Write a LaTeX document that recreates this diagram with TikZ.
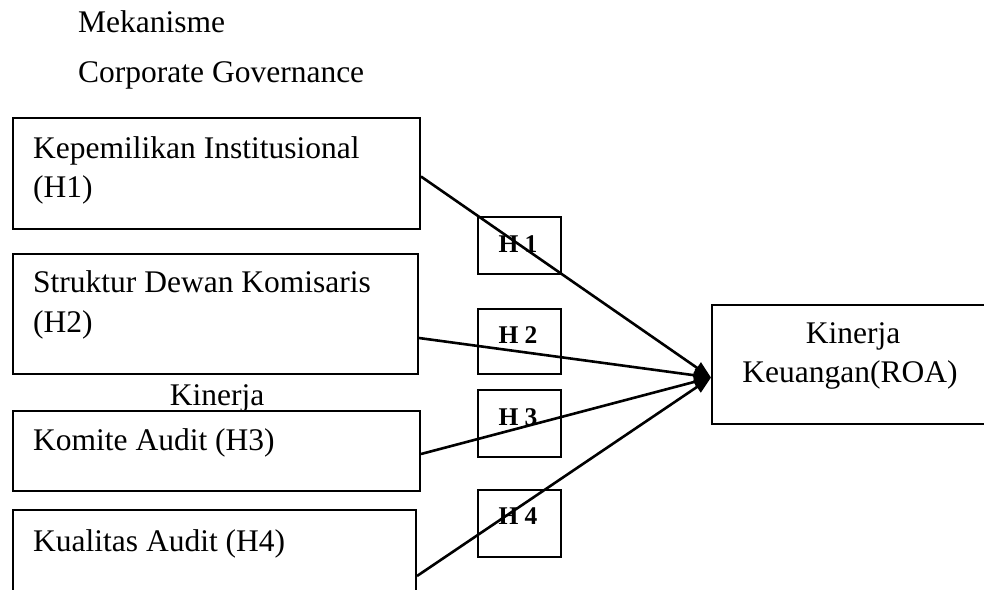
\documentclass[tikz,border=0pt]{standalone}
\usepackage{fontspec}
\setmainfont{Liberation Serif}
\usetikzlibrary{arrows.meta}
\begin{document}
\begin{tikzpicture}[x=1pt,y=-1pt,
  box/.style={draw,line width=2pt,inner sep=0pt,anchor=north west},
  hbox/.style={draw,line width=1.6pt,inner sep=0pt,anchor=north west,minimum width=83pt},
  txt/.style={anchor=base west,inner sep=0pt,font=\fontsize{31.5}{36}\selectfont},
  ctxt/.style={anchor=base,inner sep=0pt,font=\fontsize{31.5}{36}\selectfont},
  htxt/.style={anchor=base,inner sep=0pt,font=\fontsize{25.5}{30}\selectfont\bfseries},
  arr/.style={line width=2.6pt,-{Triangle[length=17pt,width=13pt]}}]
\clip (0,0) rectangle (984,589);
\fill[white] (0,0) rectangle (984,589);
% titles
\node[txt] (t1) at (78,32) {Mekanisme};
\node[txt] (t2) at (78,82) {Corporate Governance};
% left boxes
\node[box,minimum width=407pt,minimum height=111pt] (b1) at (12,117) {};
\node[box,minimum width=405pt,minimum height=120pt] (b2) at (12,253) {};
\node[box,minimum width=407pt,minimum height=80pt] (b3) at (12,410) {};
\node[box,minimum width=403pt,minimum height=110pt] (b4) at (12,509) {};
\node[txt] (l1a) at (33,158) {Kepemilikan Institusional};
\node[txt] (l1b) at (33,197) {(H1)};
\node[txt] (l2a) at (33,292) {Struktur Dewan Komisaris};
\node[txt] (l2b) at (33,332) {(H2)};
\node[txt] (l3) at (33,450) {Komite Audit (H3)};
\node[txt] (l4) at (33,551) {Kualitas Audit (H4)};
\node[ctxt] (mid) at (217,405) {Kinerja};
% right box
\node[box,minimum width=280pt,minimum height=119pt] (roa) at (711,304) {};
\node[ctxt] (r1) at (853,343) {Kinerja};
\node[ctxt] (r2) at (850,382) {Keuangan(ROA)};
% hypothesis boxes
\node[hbox,minimum height=57pt] (h1) at (477,216) {};
\node[hbox,minimum height=65pt] (h2) at (477,308) {};
\node[hbox,minimum height=67pt] (h3) at (477,389) {};
\node[hbox,minimum height=67pt] (h4) at (477,489) {};
\node[htxt] at (518,252) {H 1};
\node[htxt] at (518,343) {H 2};
\node[htxt] at (518,425) {H 3};
\node[htxt] at (518,524) {H 4};
% arrows
\coordinate (tip) at ([yshift=-13pt]roa.west);
\draw[arr] ([yshift=-3pt]b1.east) -- (tip);
\draw[arr] ([yshift=-24pt]b2.east) -- (tip);
\draw[arr] ([yshift=-3pt]b3.east) -- (tip);
\draw[arr] ([yshift=-11pt]b4.east) -- (tip);
\end{tikzpicture}
\end{document}
